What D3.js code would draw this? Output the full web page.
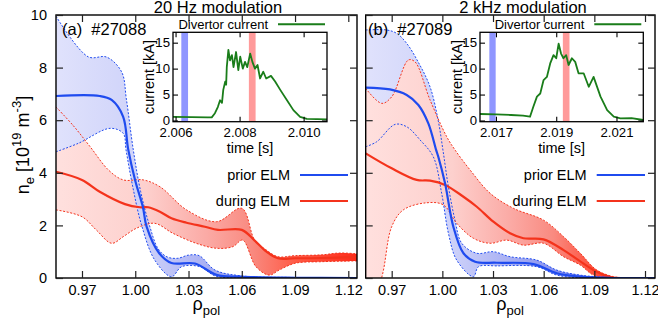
<!DOCTYPE html>
<html><head><meta charset="utf-8">
<script src="https://cdn.jsdelivr.net/npm/d3@7"></script>
<style>body{margin:0;background:#fff}svg{display:block}text{font-family:"Liberation Sans",Arial,sans-serif;fill:#000}</style>
</head><body><svg id="c" width="658" height="325"></svg>
<script>
// ---------- data ----------
const xTicks = [0.97, 1.00, 1.03, 1.06, 1.09, 1.12];
const yTicks = [0, 2, 4, 6, 8, 10];
const insetYTicks = [0, 5, 10, 15];
const insetXTicksA = [2.006, 2.008, 2.010];
const insetXTicksB = [2.017, 2.019, 2.021];
const titles = ["20 Hz modulation", "2 kHz modulation"];
const shots = ["(a)  #27088", "(b)  #27089"];
const seriesNames = ["prior ELM", "during ELM"];

// panel (a): [rho_pol, n_e]
const blueMeanA = [[0.9554,6.92],[0.980,6.92],[0.9867,6.77],[0.9932,6.13],[0.996,4.9],[1.000,3.7],[1.0043,2.7],[1.0064,1.95],[1.0135,0.94],[1.0204,0.57],[1.0336,0.55],[1.0458,0.12],[1.059,0.05],[1.09,0.01],[1.125,0.0]];
const blueUpA = [[0.9554,9.95],[0.9735,8.41],[0.9839,8.4],[0.9923,7.84],[0.995,6.8],[0.9989,4.87],[1.003,3.3],[1.008,2.0],[1.013,1.1],[1.018,0.8],[1.024,0.75],[1.03,0.87],[1.036,0.85],[1.045,0.3],[1.06,0.08],[1.09,0.02],[1.125,0.01]];
const blueLoA = [[0.9554,4.8],[0.9679,5.12],[0.9858,5.69],[0.9932,5.5],[0.9948,4.87],[0.9985,3.5],[1.0036,2.0],[1.011,0.68],[1.0204,0.05],[1.0261,0.43],[1.0364,0.43],[1.045,0.08],[1.06,0.0],[1.125,0.0]];
const redMeanA = [[0.9554,4.04],[0.97,3.73],[0.98,3.28],[0.9942,2.81],[1.0026,2.69],[1.0073,2.69],[1.0139,2.52],[1.0204,2.27],[1.0289,2.1],[1.0392,1.95],[1.0466,1.83],[1.06,1.83],[1.0673,1.42],[1.0739,1.0],[1.0804,0.75],[1.09,0.75],[1.105,0.76],[1.125,0.8]];
const redUpA = [[0.9554,6.5],[0.965,5.8],[0.9745,5.0],[0.985,4.1],[0.9932,3.73],[1.0045,3.73],[1.0139,3.47],[1.0289,2.59],[1.0458,2.14],[1.06,2.65],[1.0673,1.44],[1.0739,1.06],[1.0804,0.81],[1.09,0.85],[1.105,0.88],[1.115,0.95],[1.125,0.92]];
const redLoA = [[0.9554,2.59],[0.97,2.33],[0.978,1.83],[0.9867,1.32],[0.9932,1.57],[1.0006,1.89],[1.0109,2.08],[1.0212,1.7],[1.0343,1.32],[1.0458,1.13],[1.0549,1.19],[1.0605,1.44],[1.068,0.43],[1.0755,0.11],[1.081,0.3],[1.09,0.56],[1.105,0.62],[1.125,0.65]];

// panel (b)
const blueMeanB = [[0.9546,7.24],[0.969,7.17],[0.9789,6.96],[0.9858,6.58],[0.9917,5.88],[0.9963,4.87],[0.9976,4.61],[1.0016,3.6],[1.0065,1.95],[1.0125,0.94],[1.0194,0.62],[1.0323,0.58],[1.054,0.53],[1.0678,0.18],[1.0817,0.05],[1.10,0.0],[1.126,0.0]];
const blueUpB = [[0.9546,9.43],[0.967,9.43],[0.973,9.3],[0.9789,8.92],[0.9858,8.2],[0.9927,7.27],[0.9975,6.0],[1.0005,4.8],[1.0035,3.5],[1.0075,2.2],[1.0115,1.32],[1.0204,0.94],[1.0302,1.0],[1.0401,0.81],[1.0559,0.68],[1.0678,0.3],[1.0816,0.11],[1.10,0.02],[1.126,0.0]];
const blueLoB = [[0.9546,4.99],[0.9611,5.18],[0.972,5.84],[0.9789,5.75],[0.9868,5.25],[0.9947,4.6],[0.9996,3.22],[1.0036,1.7],[1.0085,0.68],[1.0184,0.05],[1.0214,0.43],[1.0323,0.46],[1.0559,0.43],[1.0678,0.11],[1.085,0.0],[1.126,0.0]];
const redMeanB = [[0.9546,4.74],[0.97,4.17],[0.9848,3.73],[0.9927,3.7],[1.0016,3.54],[1.0125,3.09],[1.0204,2.71],[1.0302,2.14],[1.0401,1.7],[1.048,1.51],[1.0599,1.47],[1.0718,1.06],[1.0806,0.68],[1.0895,0.3],[1.0994,0.03],[1.11,0.0],[1.126,0.0]];
const redUpB = [[0.9546,7.21],[0.9641,6.64],[0.97,6.89],[0.9799,8.29],[0.9838,8.22],[0.9927,6.77],[1.0026,5.37],[1.0075,4.87],[1.0164,4.11],[1.0283,3.22],[1.0421,2.65],[1.0599,2.2],[1.0718,1.57],[1.0817,0.94],[1.0915,0.3],[1.1014,0.05],[1.11,0.01],[1.126,0.0]];
const redLoB = [[0.9546,-1.5],[0.964,0.0],[0.97,1.95],[0.9769,2.59],[0.9907,2.86],[1.0006,2.78],[1.0085,2.08],[1.0184,1.51],[1.0283,1.32],[1.0382,1.44],[1.048,1.25],[1.0599,1.32],[1.0718,0.81],[1.0817,0.49],[1.0895,0.11],[1.10,0.0],[1.126,0.0]];

// insets: divertor current [kA] vs time [s]
const timeA = [2.00592,2.0065,2.0070,2.00713,2.00723,2.00732,2.00739,2.00745,2.00749,2.00755,2.00758,2.0076,2.00765,2.0077,2.00776,2.00781,2.00789,2.00796,2.00802,2.0081,2.00817,2.00824,2.00833,2.0084,2.00848,2.00856,2.00864,2.00874,2.00883,2.00898,2.00911,2.00927,2.00948,2.00968,2.00989,2.0101,2.01073];
const currA = [0.7,0.65,0.6,0.6,1.4,2.6,3.9,3.4,5.9,7.5,6.9,10.3,13.6,11.6,12.6,10.3,13.2,9.7,12.3,10.0,11.3,10.3,12.9,11.3,10.0,10.7,8.1,9.4,8.1,8.6,7.5,5.9,3.9,2.0,0.7,0.3,0.2];
const timeB = [2.01647,2.0170,2.0175,2.0179,2.01813,2.01824,2.01836,2.01847,2.01858,2.01869,2.0188,2.01891,2.019,2.01908,2.01916,2.01924,2.01933,2.01941,2.01952,2.01963,2.01974,2.01991,2.02008,2.02024,2.02047,2.02069,2.02091,2.02113,2.0215,2.02189];
const currB = [1.25,1.2,1.06,0.95,0.73,2.65,4.6,5.2,7.8,8.4,11.0,12.6,12.0,14.8,12.9,12.0,12.6,10.7,12.0,11.3,9.1,9.1,6.5,8.4,4.6,2.0,0.73,0.42,0.45,0.1];
const priorWinA = [2.00618, 2.00639], duringWinA = [2.00829, 2.0085];
const priorWinB = [2.01678, 2.01699], duringWinB = [2.01922, 2.01944];

// ---------- drawing ----------
const svg = d3.select("#c");
const defs = svg.append("defs");
const FONT = '"Liberation Sans",Arial,sans-serif';
const BLUE = "#1f4bef", RED = "#f4331c", GREEN = "#1a7d1a";
const yTop = 15, yBot = 278;

const panels = [
  {x0:56, x1:357, dom:[0.95536,1.1249], bm:blueMeanA, bu:blueUpA, bl:blueLoA, rm:redMeanA, ru:redUpA, rl:redLoA, redOnTop:false,
   ix0:173, ix1:327, idom:[2.00592,2.01073], it:timeA, iv:currA, ixt:insetXTicksA, pw:priorWinA, dw:duringWinA,
   title:titles[0], titleX:218, shot:shots[0], shotX:62, legX:290, legL:[300,348], ylabX:154, labels:true},
  {x0:365.7, x1:655, dom:[0.95461,1.12592], bm:blueMeanB, bu:blueUpB, bl:blueLoB, rm:redMeanB, ru:redUpB, rl:redLoB, redOnTop:true,
   ix0:480, ix1:643.3, idom:[2.01647,2.02189], it:timeB, iv:currB, ixt:insetXTicksB, pw:priorWinB, dw:duringWinB,
   title:titles[1], titleX:523, shot:shots[1], shotX:368, legX:586.7, legL:[596.7,645], ylabX:462, labels:false}
];

const y = d3.scaleLinear().domain([0,10]).range([yBot, yTop]);

panels.forEach((p, i) => {
  const x = d3.scaleLinear().domain(p.dom).range([p.x0, p.x1]);
  const g = svg.append("g");
  const cid = "clip" + i;
  defs.append("clipPath").attr("id", cid).append("rect")
    .attr("x", p.x0).attr("y", yTop).attr("width", p.x1 - p.x0).attr("height", yBot - yTop);

  // opaque horizontal gradients
  const gb = defs.append("linearGradient").attr("id", "gb" + i).attr("gradientUnits", "userSpaceOnUse")
    .attr("x1", p.x0).attr("x2", p.x1).attr("y1", 0).attr("y2", 0);
  [[0,"#e0e2fc"],[0.3,"#cdd1f9"],[0.5,"#a9b0f3"],[0.7,"#7d88ee"],[0.85,"#4a55d8"],[1,"#0a0a70"]]
    .forEach(s => gb.append("stop").attr("offset", s[0]).attr("stop-color", s[1]));
  const gr = defs.append("linearGradient").attr("id", "gr" + i).attr("gradientUnits", "userSpaceOnUse")
    .attr("x1", p.x0).attr("x2", p.x1).attr("y1", 0).attr("y2", 0);
  const redStops = i === 0
    ? [[0,"#ffe0de"],[0.3,"#fdd0cd"],[0.5,"#fbaaa5"],[0.65,"#f98a80"],[0.8,"#ff5a45"],[1,"#ff2a18"]]
    : [[0,"#ffe0de"],[0.3,"#fdd0cd"],[0.5,"#fbaaa5"],[0.65,"#f98a80"],[0.8,"#ff4a35"],[0.92,"#e02010"],[1,"#700808"]];
  redStops.forEach(s => gr.append("stop").attr("offset", s[0]).attr("stop-color", s[1]));

  const lineR = d3.line().x(d => x(d[0])).y(d => y(d[1])).curve(d3.curveCatmullRom.alpha(0.5));
  const band = (up, lo) => lineR(up) + "L" + lineR(lo.slice().reverse()).slice(1) + "Z";

  const pg = g.append("g").attr("clip-path", `url(#${cid})`);
  const drawBlue = () => pg.append("path").attr("d", band(p.bu, p.bl)).attr("fill", `url(#gb${i})`);
  const drawRed = () => pg.append("path").attr("d", band(p.ru, p.rl)).attr("fill", `url(#gr${i})`);
  if (p.redOnTop) { drawBlue(); drawRed(); } else { drawRed(); drawBlue(); }
  [[p.bu, BLUE], [p.bl, BLUE], [p.ru, RED], [p.rl, RED]].forEach(([d, c]) =>
    pg.append("path").attr("d", lineR(d)).attr("fill", "none").attr("stroke", c)
      .attr("stroke-width", 1).attr("stroke-dasharray", "2,1.6"));
  pg.append("path").attr("d", lineR(p.rm)).attr("fill", "none").attr("stroke", RED).attr("stroke-width", 2.2);
  pg.append("path").attr("d", lineR(p.bm)).attr("fill", "none").attr("stroke", BLUE).attr("stroke-width", 2.2);

  // frame
  g.append("rect").attr("x", p.x0).attr("y", yTop).attr("width", p.x1 - p.x0).attr("height", yBot - yTop)
    .attr("fill", "none").attr("stroke", "#000").attr("stroke-width", 1.4);

  // ticks (inward, mirrored)
  const tl = 7;
  const xb = d3.axisBottom(x).tickValues(xTicks).tickSize(-tl).tickPadding(tl + 5).tickFormat(d3.format(".2f"));
  const xa = g.append("g").attr("transform", `translate(0,${yBot})`).call(xb);
  xa.select(".domain").remove();
  xa.selectAll("text").attr("font-size", "14.5px").attr("font-family", FONT).attr("dy", "0.71em").attr("y", 7);
  const xt = g.append("g").attr("transform", `translate(0,${yTop})`).call(d3.axisTop(x).tickValues(xTicks).tickSize(-tl).tickFormat(""));
  xt.select(".domain").remove();
  const ya = g.append("g").attr("transform", `translate(${p.x0},0)`)
    .call(d3.axisLeft(y).tickValues(yTicks).tickSize(-tl).tickPadding(9).tickFormat(p.labels ? d3.format("d") : ""));
  ya.select(".domain").remove();
  ya.selectAll("text").attr("font-size", "14.5px").attr("font-family", FONT);
  const yr = g.append("g").attr("transform", `translate(${p.x1},0)`)
    .call(d3.axisRight(y).tickValues(yTicks).tickSize(-tl).tickFormat(""));
  yr.select(".domain").remove();
  g.selectAll(".tick line").attr("stroke", "#222").attr("stroke-width", 1.2);

  // title and shot label
  svg.append("text").attr("x", p.titleX).attr("y", 12.5).attr("text-anchor", "middle")
    .attr("font-size", "16.5px").text(p.title);
  svg.append("text").attr("x", p.shotX).attr("y", 35).attr("font-size", "16.5px")
    .attr("xml:space", "preserve").style("white-space", "pre").text(p.shot);

  // x label rho_pol
  const cx = (p.x0 + p.x1) / 2;
  const xl = svg.append("text").attr("x", cx - 14).attr("y", 310).attr("font-size", "18px");
  xl.append("tspan").text("ρ");
  xl.append("tspan").attr("font-size", "13px").attr("dy", 5).text("pol");

  // legend
  [[seriesNames[0], BLUE, 175], [seriesNames[1], RED, 201]].forEach(([t, c, yy]) => {
    svg.append("text").attr("x", p.legX).attr("y", yy + 5).attr("text-anchor", "end")
      .attr("font-size", "14.5px").text(t);
    svg.append("line").attr("x1", p.legL[0]).attr("x2", p.legL[1]).attr("y1", yy).attr("y2", yy)
      .attr("stroke", c).attr("stroke-width", 2.2);
  });

  // inset
  const iyTop = 32.3, iyBot = 121.7;
  const ix = d3.scaleLinear().domain(p.idom).range([p.ix0, p.ix1]);
  const iy = d3.scaleLinear().domain([-0.23, 17.0]).range([iyBot, iyTop]);
  const ig = svg.append("g");
  ig.append("rect").attr("x", p.ix0).attr("y", iyTop).attr("width", p.ix1 - p.ix0).attr("height", iyBot - iyTop)
    .attr("fill", "#fff");
  ig.append("rect").attr("x", ix(p.pw[0])).attr("width", ix(p.pw[1]) - ix(p.pw[0]))
    .attr("y", iyTop).attr("height", iyBot - iyTop).attr("fill", "#8f96ff");
  ig.append("rect").attr("x", ix(p.dw[0])).attr("width", ix(p.dw[1]) - ix(p.dw[0]))
    .attr("y", iyTop).attr("height", iyBot - iyTop).attr("fill", "#ff9a9a");
  const cl = d3.line().x((d, k) => ix(p.it[k])).y(d => iy(d));
  ig.append("path").attr("d", cl(p.iv)).attr("fill", "none").attr("stroke", GREEN).attr("stroke-width", 1.8)
    .attr("stroke-linejoin", "round");
  ig.append("rect").attr("x", p.ix0).attr("y", iyTop).attr("width", p.ix1 - p.ix0).attr("height", iyBot - iyTop)
    .attr("fill", "none").attr("stroke", "#000").attr("stroke-width", 1.3);
  const itl = 5;
  const ib = ig.append("g").attr("transform", `translate(0,${iyBot})`)
    .call(d3.axisBottom(ix).tickValues(p.ixt).tickSize(-itl).tickPadding(itl + 2).tickFormat(d3.format(".3f")));
  ib.select(".domain").remove();
  ib.selectAll("text").attr("font-size", "13.2px").attr("font-family", FONT).attr("y", 6);
  const itp = ig.append("g").attr("transform", `translate(0,${iyTop})`)
    .call(d3.axisTop(ix).tickValues(p.ixt).tickSize(-itl).tickFormat(""));
  itp.select(".domain").remove();
  const il = ig.append("g").attr("transform", `translate(${p.ix0},0)`)
    .call(d3.axisLeft(iy).tickValues(insetYTicks).tickSize(-itl).tickPadding(3).tickFormat(d3.format("d")));
  il.select(".domain").remove();
  il.selectAll("text").attr("font-size", "13.2px").attr("font-family", FONT);
  const ir = ig.append("g").attr("transform", `translate(${p.ix1},0)`)
    .call(d3.axisRight(iy).tickValues(insetYTicks).tickSize(-itl).tickFormat(""));
  ir.select(".domain").remove();
  ig.selectAll(".tick line").attr("stroke", "#000").attr("stroke-width", 1.1);

  ig.append("text").attr("x", (p.ix0 + p.ix1) / 2).attr("y", 153).attr("text-anchor", "middle")
    .attr("font-size", "14.5px").text("time [s]");
  ig.append("text").attr("transform", `translate(${p.ylabX},${(iyTop + iyBot) / 2}) rotate(-90)`)
    .attr("text-anchor", "middle").attr("font-size", "14.5px").text("current [kA]");
  // inset legend
  ig.append("text").attr("x", p.ix1 - 59).attr("y", 29).attr("text-anchor", "end")
    .attr("font-size", "13px").text("Divertor current");
  ig.append("line").attr("x1", p.ix1 - 49).attr("x2", p.ix1 - 2).attr("y1", 24.3).attr("y2", 24.3)
    .attr("stroke", GREEN).attr("stroke-width", 2);
});

// y label
const yl = svg.append("text").attr("transform", "translate(29,145) rotate(-90)")
  .attr("text-anchor", "middle").attr("font-size", "18px");
yl.append("tspan").text("n");
yl.append("tspan").attr("font-size", "13px").attr("dy", 5).text("e");
yl.append("tspan").attr("dy", -5).text(" [10");
yl.append("tspan").attr("font-size", "13px").attr("dy", -8).text("19");
yl.append("tspan").attr("dy", 8).text(" m");
yl.append("tspan").attr("font-size", "13px").attr("dy", -8).text("-3");
yl.append("tspan").attr("dy", 8).text("]");
</script></body></html>
